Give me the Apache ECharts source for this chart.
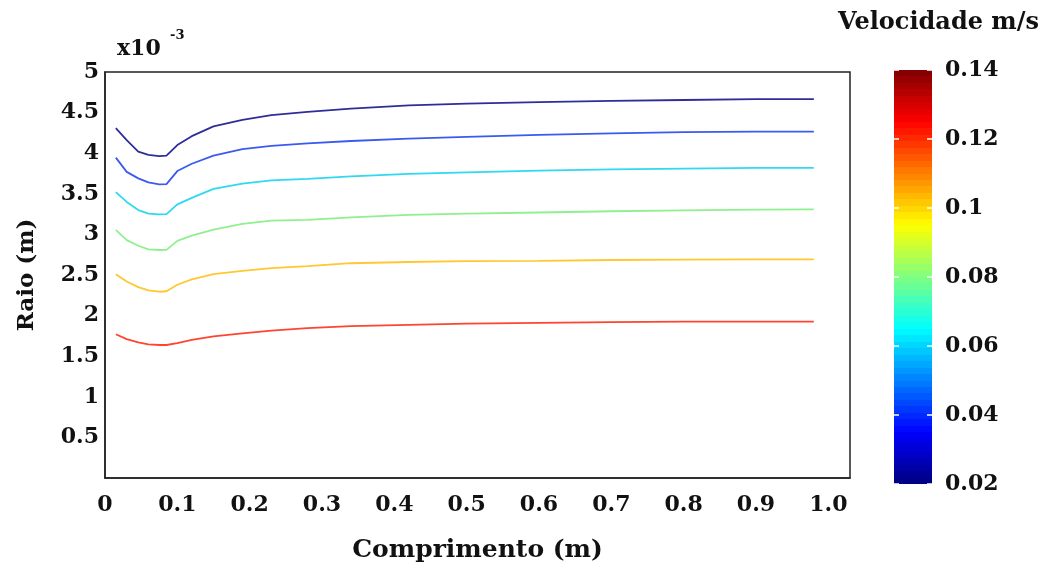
<!DOCTYPE html>
<html>
<head>
<meta charset="utf-8">
<script src="https://cdn.jsdelivr.net/npm/echarts@6/dist/echarts.min.js"></script>
<style>html,body{margin:0;padding:0;background:#fff}#c{width:1053px;height:572px}</style>
</head>
<body>
<div id="c"></div>
<script>
// Comprimento (m)
const comprimento = [0.015, 0.03, 0.046, 0.06, 0.075, 0.085, 0.1, 0.12, 0.15, 0.19, 0.23, 0.28, 0.34, 0.42, 0.5, 0.6, 0.7, 0.8, 0.9, 0.98];
// Raio (x10^-3 m) for each velocity contour
const raio_v1 = [4.31, 4.16, 4.02, 3.98, 3.965, 3.97, 4.10, 4.21, 4.33, 4.41, 4.47, 4.51, 4.55, 4.59, 4.61, 4.63, 4.645, 4.655, 4.665, 4.665];
const raio_v2 = [3.945, 3.77, 3.69, 3.64, 3.617, 3.62, 3.78, 3.87, 3.97, 4.05, 4.09, 4.12, 4.15, 4.18, 4.20, 4.225, 4.245, 4.26, 4.265, 4.265];
const raio_v3 = [3.52, 3.40, 3.30, 3.255, 3.247, 3.25, 3.37, 3.45, 3.56, 3.625, 3.665, 3.685, 3.715, 3.745, 3.765, 3.785, 3.80, 3.81, 3.82, 3.82];
const raio_v4 = [3.055, 2.93, 2.86, 2.815, 2.808, 2.81, 2.92, 2.985, 3.06, 3.13, 3.17, 3.18, 3.21, 3.24, 3.255, 3.27, 3.285, 3.295, 3.305, 3.307];
const raio_v5 = [2.51, 2.42, 2.35, 2.31, 2.294, 2.30, 2.38, 2.445, 2.51, 2.55, 2.585, 2.61, 2.645, 2.66, 2.67, 2.675, 2.685, 2.69, 2.693, 2.693];
const raio_v6 = [1.77, 1.71, 1.67, 1.645, 1.638, 1.638, 1.66, 1.70, 1.745, 1.78, 1.815, 1.845, 1.87, 1.885, 1.90, 1.91, 1.92, 1.925, 1.925, 1.925];
const lineColors = ['#2e2e99', '#3b5bf0', '#30d8f2', '#90f090', '#ffc830', '#ff4530'];
const allRaio = [raio_v1, raio_v2, raio_v3, raio_v4, raio_v5, raio_v6];
// colour bar
const velMin = 0.02, velMax = 0.14, velStep = 0.02;
const colorbarValue = [velMax];

const FONT = 'DejaVu Serif';

function jet(t) {
  const c = v => Math.max(0, Math.min(1, v));
  const r = c(1.5 - Math.abs(4 * t - 3)), g = c(1.5 - Math.abs(4 * t - 2)), b = c(1.5 - Math.abs(4 * t - 1));
  const h = v => Math.round(v * 255).toString(16).padStart(2, '0');
  return '#' + h(r) + h(g) + h(b);
}
const bands = 64, stops = [];
for (let i = 0; i < bands; i++) {
  const col = jet((i + 0.5) / bands);
  stops.push({ offset: i / bands, color: col });
  stops.push({ offset: (i + 1) / bands, color: col });
}

const series = allRaio.map((arr, i) => ({
  type: 'line',
  xAxisIndex: 0, yAxisIndex: 0,
  showSymbol: false,
  silent: true,
  lineStyle: { color: lineColors[i], width: 1.8 },
  data: comprimento.map((x, j) => [x, arr[j]])
}));
series.push({
  type: 'bar',
  xAxisIndex: 1, yAxisIndex: 1,
  barWidth: '100%',
  silent: true,
  itemStyle: { color: { type: 'linear', x: 0, y: 1, x2: 0, y2: 0, colorStops: stops } },
  data: colorbarValue
});

const tickFont = { fontFamily: FONT, fontSize: 22, fontWeight: 'bold', color: '#111' };

const chart = echarts.init(document.getElementById('c'), null, { renderer: 'canvas' });
chart.setOption({
  animation: false,
  backgroundColor: '#fff',
  title: [
    { text: 'x10', left: 112, top: 33, textStyle: { fontFamily: FONT, fontSize: 22, fontWeight: 'bold', color: '#111' } },
    { text: '-3', left: 165, top: 24, textStyle: { fontFamily: FONT, fontSize: 13, fontWeight: 'bold', color: '#111' } },
    { text: 'Velocidade m/s', left: 833, top: 6, textStyle: { fontFamily: FONT, fontSize: 24, fontWeight: 'bold', color: '#111' } }
  ],
  grid: [
    { left: 105, top: 72, right: 203, bottom: 94, show: true, borderColor: '#222', borderWidth: 1.5, backgroundColor: '#fff' },
    { left: 894, top: 70, width: 38, height: 414 }
  ],
  xAxis: [
    {
      type: 'value', gridIndex: 0, min: 0, max: 1.03, interval: 0.1,
      axisLine: { show: true, lineStyle: { color: '#222', width: 1.5 } },
      axisTick: { show: false }, splitLine: { show: false },
      axisLabel: Object.assign({}, tickFont, {
        margin: 16,
        formatter: v => v > 1.001 ? '' : (v === 0 ? '0' : v.toFixed(1))
      }),
      name: 'Comprimento (m)', nameLocation: 'middle', nameGap: 60,
      nameTextStyle: { fontFamily: FONT, fontSize: 25, fontWeight: 'bold', color: '#111' }
    },
    { type: 'category', gridIndex: 1, data: ['v'], show: false, boundaryGap: true }
  ],
  yAxis: [
    {
      type: 'value', gridIndex: 0, min: 0, max: 5, interval: 0.5,
      axisLine: { show: true, lineStyle: { color: '#222', width: 1.5 } },
      axisTick: { show: false }, splitLine: { show: false },
      axisLabel: Object.assign({}, tickFont, {
        margin: 6,
        formatter: v => v === 0 ? '' : String(v)
      }),
      name: 'Raio (m)', nameLocation: 'middle', nameGap: 66, nameRotate: 90,
      nameTextStyle: { fontFamily: FONT, fontSize: 23, fontWeight: 'bold', color: '#111' }
    },
    {
      type: 'value', gridIndex: 1, position: 'right', min: velMin, max: velMax, interval: velStep, z: 10,
      axisLine: { show: false },
      axisTick: { show: true, inside: true, length: 5, lineStyle: { color: '#fff', width: 1.5 } },
      splitLine: { show: false },
      axisLabel: Object.assign({}, tickFont, { margin: 13 })
    },
    {
      type: 'value', gridIndex: 1, position: 'left', min: velMin, max: velMax, interval: velStep, z: 10,
      axisLine: { show: false },
      axisTick: { show: true, inside: true, length: 5, lineStyle: { color: '#fff', width: 1.5 } },
      splitLine: { show: false },
      axisLabel: { show: false }
    }
  ],
  series: series
});
</script>
</body>
</html>
